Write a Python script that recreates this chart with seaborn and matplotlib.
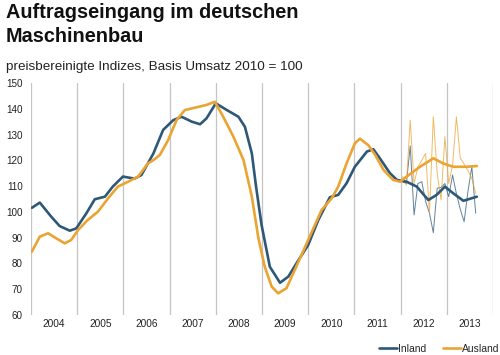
import numpy as np
import pandas as pd
import matplotlib
matplotlib.use("Agg")
import matplotlib.pyplot as plt
import seaborn as sns

# ---- data ----
inland_t = [2004.02, 2004.19, 2004.44, 2004.62, 2004.84, 2004.98, 2005.20, 2005.38, 2005.60, 2005.77,
            2005.99, 2006.24, 2006.39, 2006.53, 2006.65, 2006.86, 2007.08, 2007.26, 2007.48, 2007.66,
            2007.80, 2008.00, 2008.24, 2008.49, 2008.63, 2008.78, 2008.87, 2008.99, 2009.17, 2009.39,
            2009.57, 2009.79, 2010.00, 2010.22, 2010.47, 2010.65, 2010.83, 2011.01, 2011.27, 2011.41,
            2011.55, 2011.77, 2011.92, 2012.13, 2012.35, 2012.60, 2012.78, 2012.96, 2013.14, 2013.36,
            2013.65]
inland_v = [101.6, 103.6, 98.1, 94.5, 92.7, 93.6, 99.5, 104.9, 105.9, 109.8,
            113.7, 112.9, 114.3, 118.8, 122.7, 131.8, 135.6, 136.9, 135.0, 134.0,
            136.3, 142.1, 139.5, 136.9, 133.0, 122.7, 110.0, 95.0, 78.7, 72.5,
            74.9, 81.3, 87.2, 96.9, 105.7, 106.6, 111.1, 117.5, 123.4, 124.3,
            120.8, 115.0, 112.4, 111.7, 109.8, 104.6, 106.6, 109.8, 107.2, 104.3,
            105.9]

ausland_t = [2004.02, 2004.19, 2004.37, 2004.55, 2004.73, 2004.87, 2005.02, 2005.23, 2005.45, 2005.67,
             2005.88, 2006.10, 2006.32, 2006.53, 2006.65, 2006.79, 2006.97, 2007.15, 2007.33, 2007.59,
             2007.80, 2007.98, 2008.16, 2008.38, 2008.60, 2008.78, 2008.92, 2009.06, 2009.21, 2009.35,
             2009.53, 2009.71, 2010.00, 2010.29, 2010.51, 2010.65, 2010.83, 2011.01, 2011.12, 2011.30,
             2011.45, 2011.63, 2011.84, 2011.99, 2012.13, 2012.42, 2012.71, 2012.92, 2013.14, 2013.43,
             2013.65]
ausland_v = [84.6, 90.4, 91.7, 89.7, 87.8, 89.1, 93.0, 96.9, 100.1, 105.3,
             109.8, 111.7, 113.7, 118.8, 120.1, 122.1, 127.9, 135.6, 139.5, 140.6,
             141.5, 142.7, 136.9, 129.2, 120.1, 105.9, 90.0, 78.7, 71.0, 68.4,
             70.4, 77.5, 89.1, 100.7, 105.3, 109.8, 118.8, 126.6, 128.4, 125.9,
             122.1, 116.3, 112.4, 111.7, 113.7, 117.5, 120.8, 118.8, 117.5, 117.5,
             117.8]

# monthly (unsmoothed) values Jan 2012 - Aug 2013
months = ["2012-01", "2012-02", "2012-03", "2012-04", "2012-05", "2012-06", "2012-07", "2012-08",
          "2012-09", "2012-10", "2012-11", "2012-12", "2013-01", "2013-02", "2013-03", "2013-04",
          "2013-05", "2013-06", "2013-07", "2013-08"]
inland_monthly = [111.7, 111.0, 125.6, 98.8, 111.0, 111.7, 104.0, 99.5, 91.9, 109.2,
                  109.5, 111.0, 105.9, 114.3, 107.0, 101.0, 96.2, 108.0, 117.5, 99.5]
ausland_monthly = [113.7, 110.4, 135.6, 111.0, 117.5, 120.0, 122.7, 99.5, 136.9, 115.0,
                   104.6, 129.2, 111.0, 118.0, 136.9, 120.8, 118.5, 116.0, 113.0, 107.2]

years = list(range(2004, 2014))
year_labels = [str(y) for y in years]
yticks = [60, 70, 80, 90, 100, 110, 120, 130, 140, 150]

BLUE = "#2E5878"
ORANGE = "#EBA332"

sns.set_theme(style="white")
plt.rcParams["font.family"] = ["Liberation Sans", "DejaVu Sans"]

fig = plt.figure(figsize=(5.0, 3.55), dpi=100)
ax = fig.add_axes([0.062, 0.1127, 0.924, 0.6535])

m_t = [int(m[:4]) + (int(m[5:]) - 0.5) / 12 for m in months]
df_m = pd.DataFrame({"t": m_t, "inland": inland_monthly, "ausland": ausland_monthly})
df_i = pd.DataFrame({"t": inland_t, "v": inland_v})
df_a = pd.DataFrame({"t": ausland_t, "v": ausland_v})

sns.lineplot(data=df_m, x="t", y="inland", ax=ax, color=BLUE, lw=0.7, alpha=0.75,
             estimator=None, sort=False, zorder=3)
sns.lineplot(data=df_m, x="t", y="ausland", ax=ax, color=ORANGE, lw=0.7, alpha=0.75,
             estimator=None, sort=False, zorder=3)
sns.lineplot(data=df_i, x="t", y="v", ax=ax, color=BLUE, lw=1.9, estimator=None, sort=False,
             zorder=4, label="Inland", solid_joinstyle="round", solid_capstyle="round")
sns.lineplot(data=df_a, x="t", y="v", ax=ax, color=ORANGE, lw=1.9, estimator=None, sort=False,
             zorder=5, label="Ausland", solid_joinstyle="round", solid_capstyle="round")

ax.set_xlim(2004, 2014)
ax.set_ylim(60, 150)
for y in years + [2014]:
    ax.axvline(y, color="#C4C4C4", lw=0.9, zorder=1)
ax.set_xticks([y + 0.5 for y in years])
ax.set_xticklabels(year_labels, fontsize=7.3, color="#222222")
ax.set_yticks(yticks)
ax.set_yticklabels([str(v) for v in yticks], fontsize=7.1, color="#222222")
ax.tick_params(axis="both", length=0, pad=3)
ax.tick_params(axis="y", pad=6)
ax.set_xlabel("")
ax.set_ylabel("")
for s in ax.spines.values():
    s.set_visible(False)
ax.grid(False)

leg = ax.legend(loc="lower right", bbox_to_anchor=(0.999, 0.004), bbox_transform=fig.transFigure,
                ncol=2, frameon=False, fontsize=7.5, handlelength=1.75, handletextpad=0.1,
                columnspacing=1.6, borderaxespad=0, borderpad=0)

fig.text(0.012, 0.948, "Auftragseingang im deutschen", fontsize=14.3, fontweight="bold",
         va="baseline", ha="left", color="#111111")
fig.text(0.012, 0.8825, "Maschinenbau", fontsize=14.3, fontweight="bold",
         va="baseline", ha="left", color="#111111")
fig.text(0.012, 0.802, "preisbereinigte Indizes, Basis Umsatz 2010 = 100", fontsize=9.7,
         va="baseline", ha="left", color="#222222")

fig.savefig("out.png", dpi=100)
